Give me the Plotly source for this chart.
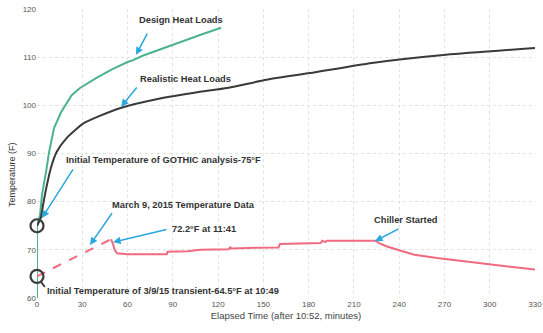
import plotly.graph_objects as go

# ---- data ----
design_t = [0, 0, 2, 3.3, 6, 8, 11.3, 16, 23, 28.5, 40, 50, 60, 63, 70, 85, 100, 108, 122]
design_T = [60, 75, 77.2, 81.4, 86.2, 90.3, 95.3, 98.6, 102.1, 103.6, 105.8, 107.5, 109.0, 109.3, 110.3, 112.0, 113.8, 114.6, 116.1]

real_t = [0, 2.5, 4, 6.6, 9.2, 13, 19.6, 31, 40, 56, 80, 108, 126, 152, 181, 222, 271, 330]
real_T = [75, 76.6, 79.3, 83.5, 87.0, 90.3, 93.2, 96.3, 97.6, 99.5, 101.3, 102.8, 103.6, 105.3, 106.7, 108.8, 110.5, 111.9]

interp_t = [0, 49]
interp_T = [64.5, 72.2]

meas_t = [49, 50, 51.5, 53, 60, 75, 86, 86.5, 100, 108, 127, 128, 129, 140, 160, 161, 180, 188, 189, 191, 192, 210, 224,
          228, 232, 240, 250, 265, 285, 305, 330]
meas_T = [72.2, 71.5, 70.0, 69.3, 69.1, 69.1, 69.1, 69.6, 69.7, 70.0, 70.1, 70.5, 70.3, 70.4, 70.5, 71.2, 71.3, 71.4, 71.9, 71.6, 71.9, 71.9, 71.9,
          71.2, 70.7, 69.9, 69.0, 68.3, 67.6, 66.9, 65.9]

init_t = [0, 0]
init_T = [75, 64.5]

x_ticks = [0, 30, 60, 90, 120, 150, 180, 210, 240, 270, 300, 330]
y_ticks = [60, 70, 80, 90, 100, 110, 120]

GREEN = "#4db38a"
BLACK = "#3a3a3a"
PINK = "#f06a80"
BLUE = "#2aa7df"
TXT = "#333333"
FAM = "Liberation Sans, Arial"

fig = go.Figure()
fig.add_trace(go.Scatter(x=design_t, y=design_T, mode="lines", line=dict(color=GREEN, width=2), hoverinfo="skip"))
fig.add_trace(go.Scatter(x=real_t, y=real_T, mode="lines", line=dict(color=BLACK, width=2, shape="spline", smoothing=0.6), hoverinfo="skip"))
fig.add_trace(go.Scatter(x=interp_t, y=interp_T, mode="lines", line=dict(color=PINK, width=2, dash="dash"), hoverinfo="skip"))
fig.add_trace(go.Scatter(x=meas_t, y=meas_T, mode="lines", line=dict(color=PINK, width=2), hoverinfo="skip"))
fig.add_trace(go.Scatter(x=init_t, y=init_T, mode="markers", cliponaxis=False,
                         marker=dict(symbol="circle-open", size=13, color=BLACK, line=dict(color=BLACK, width=2.2)),
                         hoverinfo="skip"))

font_b = dict(family=FAM, size=9.3, color=TXT)

texts = [
    ("<b>Design Heat Loads</b>", 66.3, 117.7),
    ("<b>Realistic Heat Loads</b>", 66.9, 105.5),
    ("<b>Initial Temperature of GOTHIC analysis-75°F</b>", 17.9, 88.7),
    ("<b>March 9, 2015 Temperature Data</b>", 48.4, 79.3),
    ("<b>72.2°F at 11:41</b>", 88.1, 74.3),
    ("<b>Chiller Started</b>", 222, 76.2),
    ("<b>Initial Temperature of 3/9/15 transient-64.5°F at 10:49</b>", 5.3, 61.5),
]
for t, x, y in texts:
    fig.add_annotation(x=x, y=y, text=t, showarrow=False, xanchor="left", yanchor="middle", font=font_b)

arrows = [
    (73.6, 115.2, 65.6, 110.5),
    (66.9, 104.0, 55.7, 99.7),
    (24.5, 87.0, 3.3, 76.6),
    (50.4, 77.9, 35.1, 71.0),
    (86.8, 74.3, 50.4, 71.6),
    (240.6, 74.5, 224.0, 71.8),
]
for ax, ay, x, y in arrows:
    fig.add_annotation(x=x, y=y, ax=ax, ay=ay, axref="x", ayref="y", text="", showarrow=True,
                       arrowhead=2, arrowsize=1, arrowwidth=1.5, arrowcolor=BLUE)
# connector from lower circle to label
fig.add_annotation(x=2.2, y=63.5, ax=6.0, ay=62.0, axref="x", ayref="y", text="", showarrow=True,
                   arrowhead=0, arrowwidth=1.8, arrowcolor=BLACK)

fig.add_annotation(x=(12 - 37) / 498, y=1 - (175 - 9) / 289, xref="paper", yref="paper",
                   xanchor="center", yanchor="middle", text="Temperature (F)", showarrow=False,
                   textangle=-90, font=dict(family=FAM, size=9, color=TXT))

fig.update_layout(
    width=543, height=333,
    margin=dict(l=37, r=8, t=9, b=35, autoexpand=False),
    paper_bgcolor="white", plot_bgcolor="white",
    showlegend=False,
    xaxis=dict(range=[0, 330], tickvals=x_ticks, showline=False, zeroline=False, automargin=False,
               showgrid=True, gridcolor="#e2e2e2", griddash="dot", gridwidth=1,
               tickfont=dict(family=FAM, size=8, color="#555"),
               title=dict(text="Elapsed Time (after 10:52, minutes)", standoff=4,
                          font=dict(family=FAM, size=9.5, color="#444"))),
    yaxis=dict(range=[60, 120], tickvals=y_ticks, showline=False, zeroline=False, automargin=False,
               showgrid=True, gridcolor="#e2e2e2", griddash="dot", gridwidth=1,
               tickfont=dict(family=FAM, size=8, color="#555"), ticklen=0),
)

fig.write_html("out.html", config={"displayModeBar": False},
               post_script="document.body.style.margin='0';")
